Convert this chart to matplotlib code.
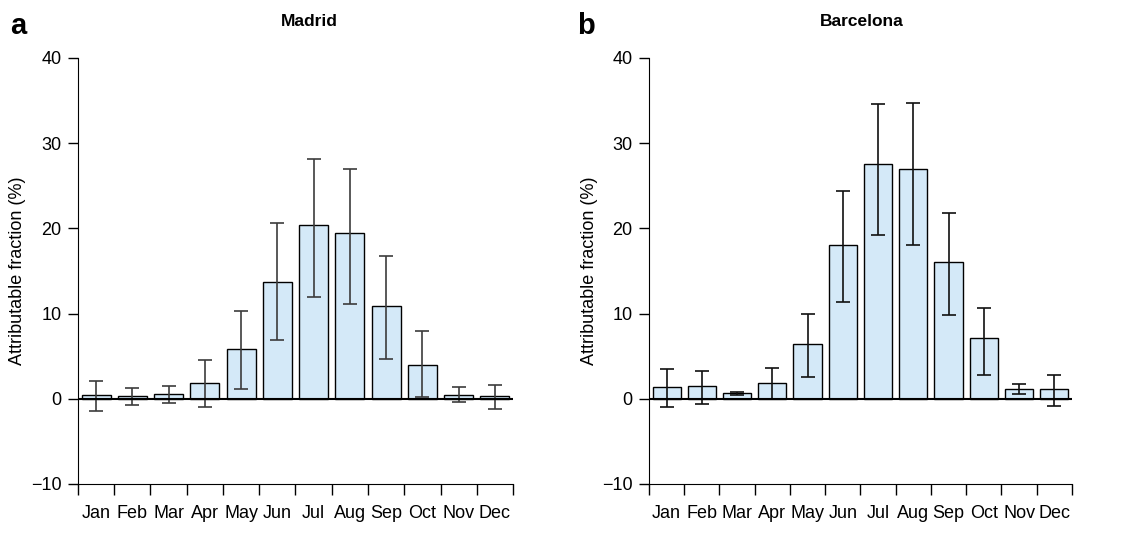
import numpy as np
import matplotlib.pyplot as plt

plt.rcParams['font.family'] = ['Liberation Sans', 'DejaVu Sans']

meses = ['Jan', 'Feb', 'Mar', 'Apr', 'May', 'Jun', 'Jul', 'Aug', 'Sep', 'Oct', 'Nov', 'Dec']

# Madrid: fracción atribuible y sus intervalos
madrid = [0.4, 0.3, 0.55, 1.9, 5.8, 13.7, 20.35, 19.45, 10.9, 4.0, 0.5, 0.3]
madrid_lo = [-1.4, -0.7, -0.5, -1.0, 1.1, 6.9, 11.9, 11.1, 4.7, 0.25, -0.35, -1.2]
madrid_hi = [2.1, 1.3, 1.5, 4.5, 10.3, 20.6, 28.1, 27.0, 16.7, 7.9, 1.4, 1.65]

# Barcelona
barcelona = [1.4, 1.5, 0.65, 1.85, 6.45, 18.1, 27.6, 27.0, 16.05, 7.15, 1.15, 1.1]
barcelona_lo = [-0.95, -0.65, 0.4, 0.0, 2.6, 11.35, 19.25, 18.05, 9.85, 2.85, 0.6, -0.85]
barcelona_hi = [3.5, 3.3, 0.85, 3.6, 10.0, 24.4, 34.6, 34.7, 21.85, 10.6, 1.75, 2.8]

fig = plt.figure(figsize=(11.33, 5.47), dpi=100)

# (titulo, letra, datos, posición de ejes, color de barras de error, x del título, x de la letra)
paneles = [
    ('Madrid', 'a', madrid, madrid_lo, madrid_hi, [0.0688, 0.1152, 0.3840, 0.7788], '#3c3c3c', 0.531, -0.155),
    ('Barcelona', 'b', barcelona, barcelona_lo, barcelona_hi, [0.5728, 0.1152, 0.3733, 0.7788], '#111111', 0.503, -0.17),
]

for titulo, letra, val, lo, hi, pos, col_err, xt, xl in paneles:
    ax = fig.add_axes(pos)
    x = np.arange(len(meses)) + 0.5
    val = np.array(val)
    err = np.array([val - np.array(lo), np.array(hi) - val])
    ax.bar(x, val, width=0.8, color='#d4e9f8', edgecolor='black', linewidth=1.0, zorder=2)
    ax.errorbar(x, val, yerr=err, fmt='none', ecolor=col_err, elinewidth=1.2,
                capsize=5, capthick=1.2, zorder=3)
    ax.axhline(0, color='black', linewidth=1.5, zorder=4)

    ax.set_xlim(0, 12)
    ax.set_ylim(-10, 40)
    ax.set_yticks([-10, 0, 10, 20, 30, 40])
    ax.set_yticklabels(['\u221210', '0', '10', '20', '30', '40'])
    ax.set_xticks(np.arange(13))
    ax.set_xticklabels([])
    ax.set_xticks(x, minor=True)
    ax.set_xticklabels(meses, minor=True)
    ax.tick_params(axis='x', which='minor', length=0, pad=15, labelsize=13)
    ax.tick_params(axis='x', which='major', length=8, width=1.0)
    ax.tick_params(axis='y', length=7, width=1.0, pad=5, labelsize=13)

    for lado in ['top', 'right']:
        ax.spines[lado].set_visible(False)
    ax.spines['left'].set_bounds(-10, 40)
    ax.spines['bottom'].set_bounds(0, 12)

    ax.set_ylabel('Attributable fraction (%)', fontsize=13, labelpad=3)
    ax.text(xt, 1.085, titulo, transform=ax.transAxes, ha='center', va='center',
            fontsize=12.5, fontweight='bold')
    ax.text(xl, 1.075, letra, transform=ax.transAxes,
            ha='left', va='center', fontsize=21, fontweight='bold')

fig.savefig('out.png', dpi=100)
